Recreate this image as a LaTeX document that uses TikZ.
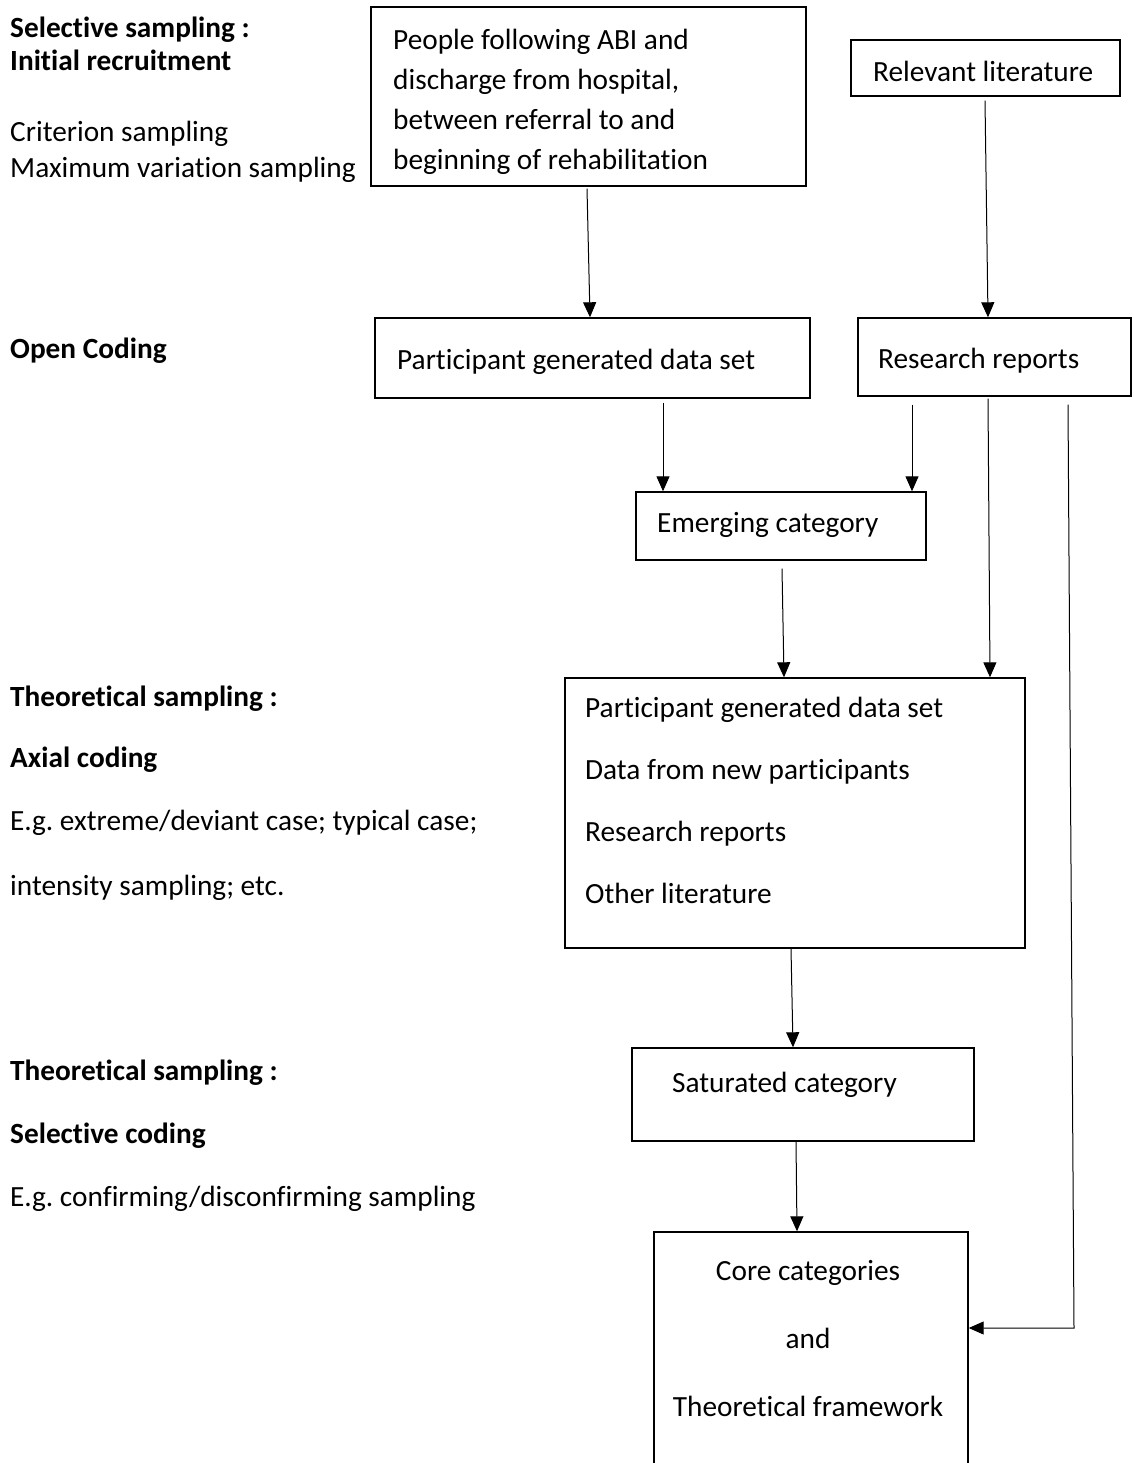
\documentclass[tikz,border=0pt]{standalone}
\usepackage{fontspec}
\setmainfont[Ligatures=NoCommon]{Carlito}
\usetikzlibrary{arrows.meta}
\frenchspacing
\begin{document}
\begin{tikzpicture}[x=1pt,y=-1pt,
  box/.style={draw=black, line width=1.4pt, inner sep=0pt, fill=none},
  txt/.style={anchor=mid west, inner sep=0pt, font=\fontsize{29.3}{35}\selectfont},
  ctxt/.style={anchor=mid, inner sep=0pt, font=\fontsize{29.3}{35}\selectfont},
  head/.style={txt, font=\fontsize{29.3}{35}\selectfont\bfseries},
  arr/.style={draw=black, line width=1pt, -{Triangle[length=15pt,width=13pt]}},
]
\useasboundingbox (0,0) rectangle (1134,1463);
\clip (0,0) rectangle (1134,1463);
\fill[white] (0,0) rectangle (1134,1463);

% stage labels on the left
\node[head] (l1) at (10,35) {Selective sampling :};
\node[head] (l2) at (10,68) {Initial recruitment};
\node[txt]  (l3) at (10,139) {Criterion sampling};
\node[txt]  (l4) at (10,175) {Maximum variation sampling};
\node[head] (l5) at (10,356) {Open Coding};
\node[head] (l6) at (10,704) {Theoretical sampling :};
\node[head] (l7) at (10,765) {Axial coding};
\node[txt]  (l8) at (10,828) {E.g. extreme/deviant case; typical case;};
\node[txt]  (l9) at (10,893) {intensity sampling; etc.};
\node[head] (l10) at (10,1078) {Theoretical sampling :};
\node[head] (l11) at (10,1141) {Selective coding};
\node[txt]  (l12) at (10,1204) {E.g. confirming/disconfirming sampling};

% boxes of the flow
\node[box, minimum width=435pt, minimum height=179pt] (A) at (588.5,96.5) {};
\node[box, minimum width=269pt, minimum height=56pt]  (B) at (985.5,68) {};
\node[box, minimum width=435pt, minimum height=80pt]  (C) at (592.5,358) {};
\node[box, minimum width=273pt, minimum height=78pt]  (D) at (994.5,357) {};
\node[box, minimum width=290pt, minimum height=68pt]  (E) at (781,526) {};
\node[box, minimum width=460pt, minimum height=270pt] (F) at (795,813) {};
\node[box, minimum width=342pt, minimum height=93pt]  (G) at (803,1094.5) {};
\node[box, minimum width=314pt, minimum height=268pt] (H) at (811,1366) {};

% box texts
\node[txt] (a1) at (393,47)  {People following ABI and};
\node[txt] (a2) at (393,87)  {discharge from hospital,};
\node[txt] (a3) at (393,127) {between referral to and};
\node[txt] (a4) at (393,167) {beginning of rehabilitation};
\node[txt] (b1) at (873,79)  {Relevant literature};
\node[txt] (c1) at (397,367) {Participant generated data set};
\node[txt] (d1) at (878,366) {Research reports};
\node[txt] (e1) at (657,530) {Emerging category};
\node[txt] (f1) at (585,715) {Participant generated data set};
\node[txt] (f2) at (585,777) {Data from new participants};
\node[txt] (f3) at (585,839) {Research reports};
\node[txt] (f4) at (585,901) {Other literature};
\node[txt] (g1) at (672,1090) {Saturated category};
\node[ctxt] (h1) at (808,1278) {Core categories};
\node[ctxt] (h2) at (808,1346) {and};
\node[ctxt] (h3) at (808,1414) {Theoretical framework};

% connectors
\coordinate (turn) at (1074,1328);
\draw[arr] ([xshift=-1.5pt,yshift=-2pt]A.south) -- ([xshift=-2.5pt]C.north);
\draw[arr] ([xshift=-0.5pt,yshift=-4pt]B.south) -- ([xshift=-6.5pt]D.north);
\draw[arr] ([xshift=70.5pt,yshift=-4pt]C.south) -- ([xshift=-118pt]E.north);
\draw[arr] ([xshift=-82.5pt,yshift=-8pt]D.south) -- ([xshift=131pt]E.north);
\draw[arr] ([xshift=-6.5pt,yshift=-2pt]D.south) -- ([xshift=195pt]F.north);
\draw[arr] ([xshift=1pt,yshift=-8pt]E.south) -- ([xshift=-11pt]F.north);
\draw[arr] ([xshift=73.5pt,yshift=-8pt]D.south) -- (turn) -- (turn -| H.east);
\draw[arr] ([xshift=-4pt]F.south) -- ([xshift=-10pt]G.north);
\draw[arr] ([xshift=-7pt]G.south) -- ([xshift=-14pt]H.north);
\end{tikzpicture}
\end{document}
